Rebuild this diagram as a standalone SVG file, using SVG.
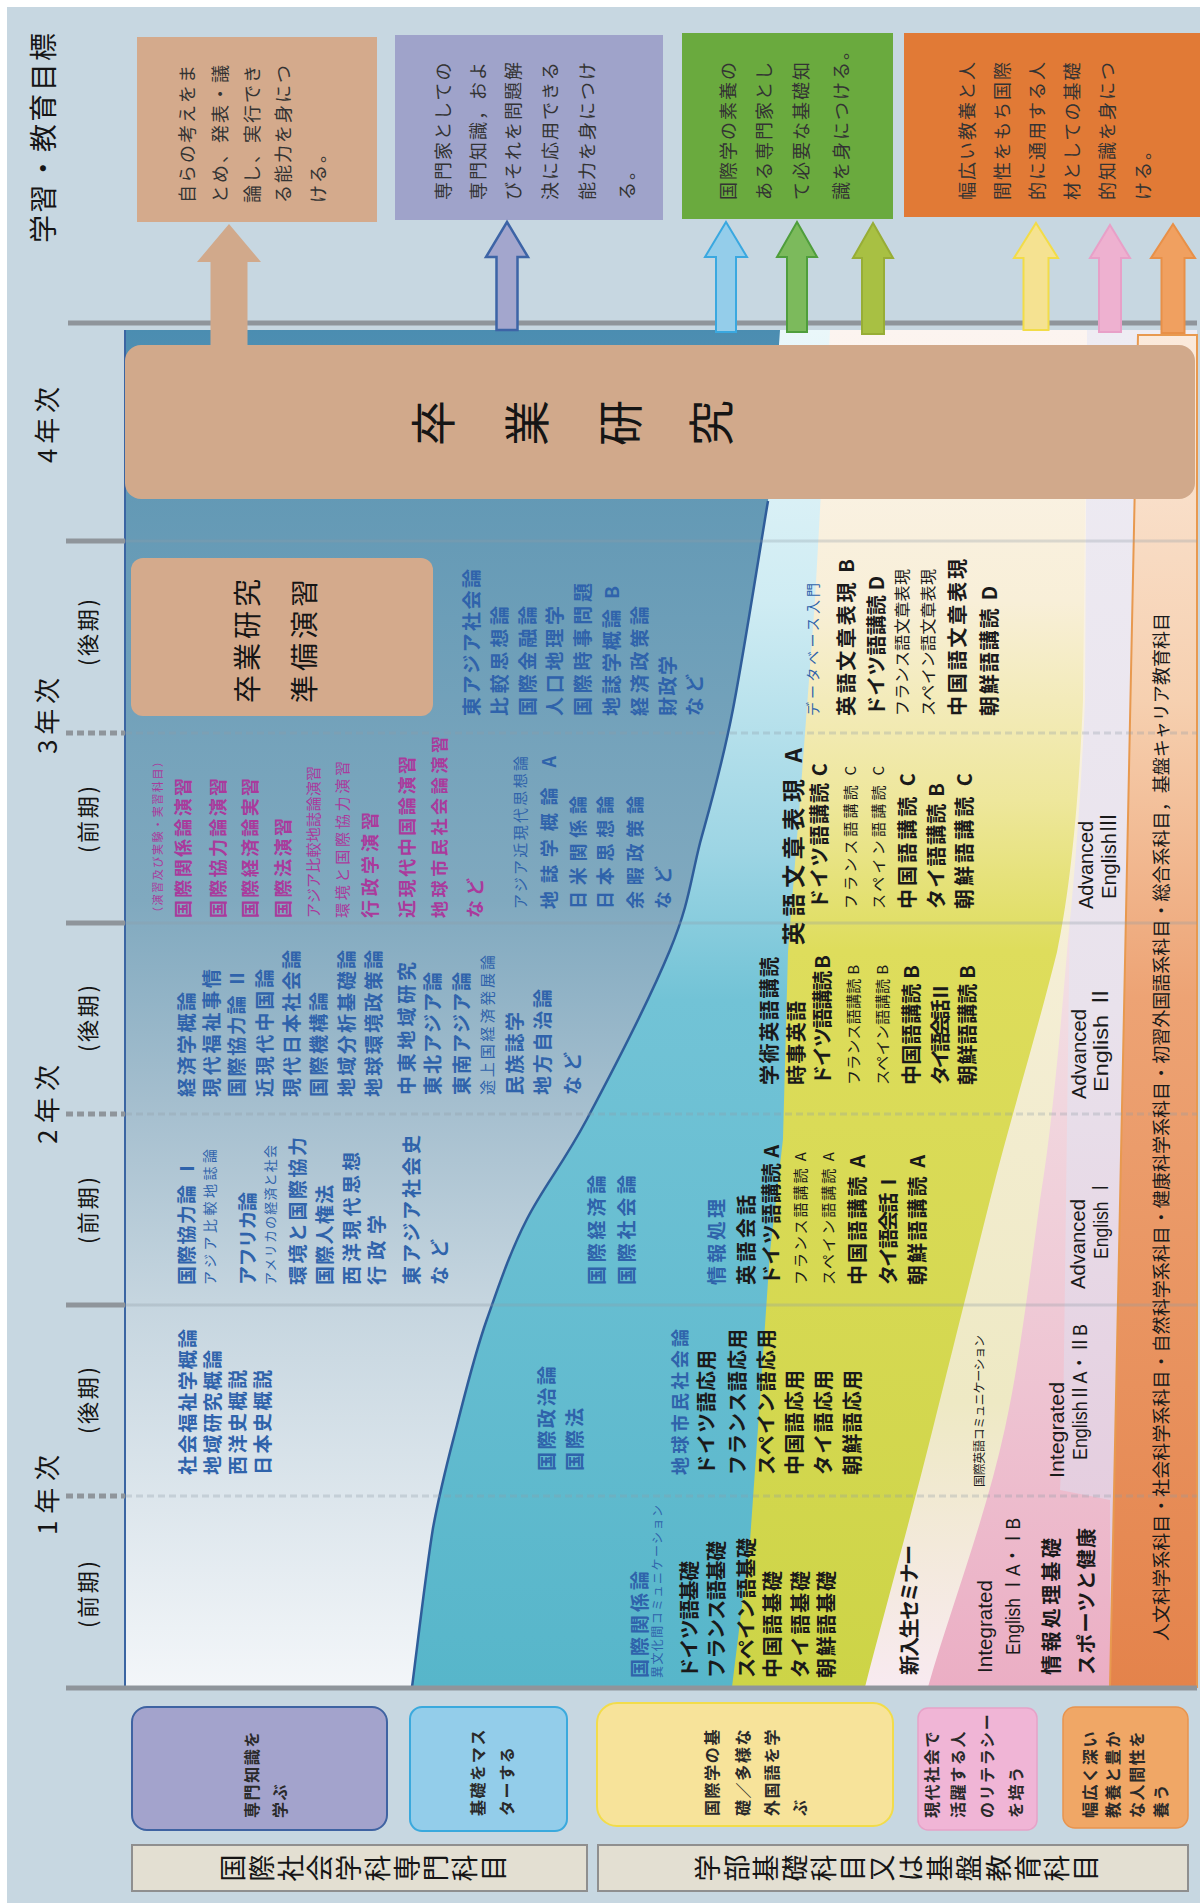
<svg xmlns="http://www.w3.org/2000/svg" width="1200" height="1903" viewBox="0 0 1200 1903">
<defs>
<style>
.t{font-family:"Noto Sans CJK JP","Noto Sans CJK SC",sans-serif;}
.l{font-family:"Liberation Sans","Noto Sans CJK JP",sans-serif;font-weight:normal;}
.bl{fill:#2f63ab;font-weight:bold;}
.mg{fill:#aa3a9c;font-weight:bold;}
.bk{fill:#1a1a1a;}
.bd{font-weight:bold;}
.nw{font-weight:normal;}
.gt{font-size:18px;letter-spacing:2px;fill:#333;}
.bx{font-size:16px;letter-spacing:1.6px;fill:#2a2a2a;font-weight:bold;}
.yl{stroke:#8f959b;stroke-width:5;fill:none;}
.fl{stroke:#8f9aa6;stroke-width:3;opacity:.3;fill:none;}
.hd{fill:#151515;}
</style>
<linearGradient id="gA" gradientUnits="userSpaceOnUse" x1="0" y1="330" x2="0" y2="1687">
<stop offset="0" stop-color="#4b8db1"/><stop offset=".12" stop-color="#6399b5"/><stop offset=".42" stop-color="#80a9bf"/><stop offset=".567" stop-color="#a4bece"/><stop offset=".715" stop-color="#c5d5df"/><stop offset="1" stop-color="#f3f6f9"/>
</linearGradient>
<linearGradient id="gB" gradientUnits="userSpaceOnUse" x1="0" y1="330" x2="0" y2="1687">
<stop offset="0" stop-color="#eaf7fa"/><stop offset=".2" stop-color="#cfecf3"/><stop offset=".383" stop-color="#9dd5e4"/><stop offset=".494" stop-color="#72c3d6"/><stop offset="1" stop-color="#57b6ca"/>
</linearGradient>
<linearGradient id="gC" gradientUnits="userSpaceOnUse" x1="0" y1="330" x2="0" y2="1687">
<stop offset="0" stop-color="#fcf4f0"/><stop offset=".2" stop-color="#f8efd8"/><stop offset=".346" stop-color="#eee79c"/><stop offset=".457" stop-color="#dedd5c"/><stop offset="1" stop-color="#cdd447"/>
</linearGradient>
<linearGradient id="gD" gradientUnits="userSpaceOnUse" x1="0" y1="330" x2="0" y2="1687">
<stop offset="0" stop-color="#fcf4f0"/><stop offset=".42" stop-color="#f6efd8"/><stop offset=".79" stop-color="#eee9c4"/><stop offset="1" stop-color="#f8eaf0"/>
</linearGradient>
<linearGradient id="gE" gradientUnits="userSpaceOnUse" x1="0" y1="330" x2="0" y2="1687">
<stop offset="0" stop-color="#f8eff2"/><stop offset=".42" stop-color="#f3e2e6"/><stop offset=".715" stop-color="#efcad6"/><stop offset="1" stop-color="#ebaec4"/>
</linearGradient>
<linearGradient id="gF" gradientUnits="userSpaceOnUse" x1="0" y1="330" x2="0" y2="1687">
<stop offset="0" stop-color="#eeecf3"/><stop offset=".5" stop-color="#e9e2ec"/><stop offset="1" stop-color="#e3c6da"/>
</linearGradient>
<linearGradient id="gO" gradientUnits="userSpaceOnUse" x1="0" y1="335" x2="0" y2="1687">
<stop offset="0" stop-color="#fbeadc"/><stop offset=".27" stop-color="#f6d0b0"/><stop offset=".49" stop-color="#eda374"/><stop offset="1" stop-color="#e4834b"/>
</linearGradient>
</defs>

<rect x="0" y="0" width="1200" height="1903" fill="#ffffff"/>
<rect x="7" y="7" width="1193" height="1896" fill="#c7d7e1"/>

<!-- chart bands -->
<g id="chart">
<rect x="700" y="330" width="497" height="1357" fill="url(#gF)"/>
<path d="M125,330 L1087,330 L1070,900 L1063,1428 L1060,1490 L1110,1500 L1110,1687 L125,1687 Z" fill="url(#gE)"/>
<path d="M125,330 L1087,330 L1085,700 C1080,820 1072,900 1067,952 C1058,1060 1050,1140 1040,1200 C1028,1290 1018,1370 1005,1428 C985,1520 950,1610 928,1687 L125,1687 Z" fill="url(#gD)"/>
<path d="M125,330 L1087,330 L1083,700 C1078,820 1068,900 1057,952 C1035,1040 1010,1120 990,1200 C970,1280 950,1360 933,1428 C910,1520 885,1610 865,1687 L125,1687 Z" fill="url(#gC)"/>
<path d="M125,330 L830,330 L815,600 L800,800 L788,952 L783,1139 L770,1252 L758,1428 L750,1541 L732,1687 L125,1687 Z" fill="url(#gB)"/>
<path d="M125,330 L780,330 L768,501 C762,536 744,652 733,709 C722,766 711,803 700,843 C690,883 689,904 670,950 C651,996 611,1074 587,1119 C563,1164 544,1186 527,1219 C510,1252 499,1285 487,1319 C475,1353 466,1390 457,1425 C448,1460 441,1485 433,1528 C426,1571 416,1657 412,1687 L125,1687 Z" fill="url(#gA)"/>
<path d="M768,501 C762,536 744,652 733,709 C722,766 711,803 700,843 C690,883 689,904 670,950 C651,996 611,1074 587,1119 C563,1164 544,1186 527,1219 C510,1252 499,1285 487,1319 C475,1353 466,1390 457,1425 C448,1460 441,1485 433,1528 C426,1571 416,1657 412,1687" fill="none" stroke="#2f5d9a" stroke-width="2.5"/>
<path d="M1138,335 L1197,335 L1197,1687 L1110,1687 Z" fill="url(#gO)" stroke="#e8994f" stroke-width="2"/>
<path d="M125,330 V1687" stroke="#3b65a2" stroke-width="2" fill="none"/>
<path class="fl" d="M125,541 H1197 M125,923 H1197 M125,1305 H1197"/>
<path class="fl" stroke-dasharray="7 4" d="M125,733 H1197 M125,1114 H1197 M125,1496 H1197"/>
</g>

<!-- year lines -->
<g id="yearlines">
<path class="yl" d="M68,323 H1197 M66,1688 H1197 M66,541 H125 M66,923 H125 M66,1305 H125"/>
<path class="yl" stroke-dasharray="7 4" d="M66,733 H125 M66,1114 H125 M66,1496 H125"/>
</g>

<!-- year headers -->
<g id="headers" transform="matrix(0,-1,1,0,0,1903)" class="t hd">
<text x="1660" y="54" font-size="28" textLength="210" lengthAdjust="spacing">学習・教育目標</text>
<text x="1440" y="57" font-size="26" textLength="76" lengthAdjust="spacing">4年次</text>
<text x="1149" y="57" font-size="26" textLength="76" lengthAdjust="spacing">3年次</text>
<text x="759" y="57" font-size="26" textLength="79" lengthAdjust="spacing">2年次</text>
<text x="368" y="57" font-size="26" textLength="80" lengthAdjust="spacing">1年次</text>
<g font-size="22">
<text x="1237" y="96" textLength="67" lengthAdjust="spacing">(後期)</text>
<text x="1050" y="96" textLength="67" lengthAdjust="spacing">(前期)</text>
<text x="851" y="96" textLength="67" lengthAdjust="spacing">(後期)</text>
<text x="659" y="96" textLength="67" lengthAdjust="spacing">(前期)</text>
<text x="469" y="96" textLength="67" lengthAdjust="spacing">(後期)</text>
<text x="275" y="96" textLength="67" lengthAdjust="spacing">(前期)</text>
</g>
</g>

<!-- graduation research -->
<g id="sotsugyo">
<rect x="125" y="345" width="1070" height="154" rx="16" fill="#d1a98b"/>
<g transform="matrix(0,-1,1,0,0,1903)" class="t hd" font-size="46" text-anchor="middle">
<text x="1480" y="450">卒</text>
<text x="1480" y="544">業</text>
<text x="1480" y="637">研</text>
<text x="1480" y="728">究</text>
</g>
</g>

<g id="junbi">
<rect x="131" y="558" width="302" height="158" rx="12" fill="#d4aa8c"/>
<g transform="matrix(0,-1,1,0,0,1903)" class="t hd" font-size="28">
<text x="1200" y="258" textLength="124" lengthAdjust="spacing">卒業研究</text>
<text x="1200" y="315" textLength="124" lengthAdjust="spacing">準備演習</text>
</g>
</g>

<!-- course texts -->
<g id="courses" transform="matrix(0,-1,1,0,0,1903)" class="t">
<!-- 3年前期 magenta -->
<g class="mg">
<text class="nw" x="985" y="162" font-size="11" textLength="162" lengthAdjust="spacing">（演習及び実験・実習科目）</text>
<text x="985" y="190" font-size="18" textLength="140" lengthAdjust="spacing">国際関係論演習</text>
<text x="985" y="225" font-size="18" textLength="140" lengthAdjust="spacing">国際協力論演習</text>
<text x="985" y="257" font-size="18" textLength="140" lengthAdjust="spacing">国際経済論実習</text>
<text x="985" y="290" font-size="18" textLength="100" lengthAdjust="spacing">国際法演習</text>
<text class="nw" x="985" y="319" font-size="15" textLength="152" lengthAdjust="spacing">アジア比較地誌論演習</text>
<text class="nw" x="985" y="348" font-size="15" textLength="157" lengthAdjust="spacing">環境と国際協力演習</text>
<text x="985" y="377" font-size="18" textLength="106" lengthAdjust="spacing">行政学演習</text>
<text x="985" y="414" font-size="18" textLength="162" lengthAdjust="spacing">近現代中国論演習</text>
<text x="985" y="446" font-size="17" textLength="182" lengthAdjust="spacing">地球市民社会論演習</text>
<text x="985" y="482" font-size="18" textLength="40" lengthAdjust="spacing">など</text>
</g>
<g class="bl">
<!-- 3年前期 blue -->
<text class="nw" x="994" y="526" font-size="15" textLength="153" lengthAdjust="spacing">アジア近現代思想論</text>
<text x="994" y="556" font-size="18" textLength="153" lengthAdjust="spacing">地誌学概論 A</text>
<text x="994" y="585" font-size="18" textLength="113" lengthAdjust="spacing">日米関係論</text>
<text x="994" y="612" font-size="18" textLength="113" lengthAdjust="spacing">日本思想論</text>
<text x="994" y="642" font-size="18" textLength="113" lengthAdjust="spacing">余暇政策論</text>
<text x="994" y="670" font-size="18" textLength="43" lengthAdjust="spacing">など</text>
<!-- 3年後期 blue -->
<text x="1187" y="479" font-size="19" textLength="147" lengthAdjust="spacing">東アジア社会論</text>
<text x="1187" y="507" font-size="19" textLength="110" lengthAdjust="spacing">比較思想論</text>
<text x="1187" y="535" font-size="19" textLength="110" lengthAdjust="spacing">国際金融論</text>
<text x="1187" y="562" font-size="19" textLength="110" lengthAdjust="spacing">人口地理学</text>
<text x="1187" y="590" font-size="19" textLength="133" lengthAdjust="spacing">国際時事問題</text>
<text x="1187" y="619" font-size="19" textLength="130" lengthAdjust="spacing">地誌学概論 B</text>
<text x="1187" y="647" font-size="19" textLength="110" lengthAdjust="spacing">経済政策論</text>
<text x="1187" y="675" font-size="19" textLength="60" lengthAdjust="spacing">財政学</text>
<text x="1187" y="702" font-size="19" textLength="42" lengthAdjust="spacing">など</text>
<text class="nw" x="1187" y="818" font-size="14" textLength="133" lengthAdjust="spacing">データベース入門</text>
<!-- 2年後期 blue -->
<text x="806" y="194" font-size="19" textLength="105" lengthAdjust="spacing">経済学概論</text>
<text x="806" y="219" font-size="19" textLength="128" lengthAdjust="spacing">現代福祉事情</text>
<text x="806" y="244" font-size="19" textLength="128" lengthAdjust="spacing">国際協力論 Ⅱ</text>
<text x="806" y="272" font-size="19" textLength="128" lengthAdjust="spacing">近現代中国論</text>
<text x="806" y="299" font-size="19" textLength="147" lengthAdjust="spacing">現代日本社会論</text>
<text x="806" y="326" font-size="19" textLength="105" lengthAdjust="spacing">国際機構論</text>
<text x="806" y="354" font-size="19" textLength="147" lengthAdjust="spacing">地域分析基礎論</text>
<text x="806" y="381" font-size="19" textLength="147" lengthAdjust="spacing">地球環境政策論</text>
<text x="808" y="414" font-size="19" textLength="133" lengthAdjust="spacing">中東地域研究</text>
<text x="808" y="440" font-size="19" textLength="123" lengthAdjust="spacing">東北アジア論</text>
<text x="808" y="469" font-size="19" textLength="123" lengthAdjust="spacing">東南アジア論</text>
<text class="nw" x="808" y="493" font-size="15" textLength="140" lengthAdjust="spacing">途上国経済発展論</text>
<text x="808" y="522" font-size="19" textLength="83" lengthAdjust="spacing">民族誌学</text>
<text x="808" y="550" font-size="19" textLength="106" lengthAdjust="spacing">地方自治論</text>
<text x="808" y="580" font-size="19" textLength="43" lengthAdjust="spacing">など</text>
<!-- 2年前期 blue -->
<text x="618" y="194" font-size="19" textLength="126" lengthAdjust="spacing">国際協力論 Ⅰ</text>
<text class="nw" x="618" y="215" font-size="14" textLength="136" lengthAdjust="spacing">アジア比較地誌論</text>
<text x="618" y="255" font-size="19" textLength="93" lengthAdjust="spacing">アフリカ論</text>
<text class="nw" x="618" y="275" font-size="13" textLength="140" lengthAdjust="spacing">アメリカの経済と社会</text>
<text x="618" y="305" font-size="19" textLength="148" lengthAdjust="spacing">環境と国際協力</text>
<text x="618" y="332" font-size="19" textLength="100" lengthAdjust="spacing">国際人権法</text>
<text x="618" y="359" font-size="19" textLength="133" lengthAdjust="spacing">西洋現代思想</text>
<text x="618" y="384" font-size="19" textLength="70" lengthAdjust="spacing">行政学</text>
<text x="618" y="419" font-size="19" textLength="150" lengthAdjust="spacing">東アジア社会史</text>
<text x="618" y="447" font-size="19" textLength="46" lengthAdjust="spacing">など</text>
<text x="618" y="604" font-size="19" textLength="110" lengthAdjust="spacing">国際経済論</text>
<text x="618" y="634" font-size="19" textLength="110" lengthAdjust="spacing">国際社会論</text>
<text x="618" y="724" font-size="19" textLength="86" lengthAdjust="spacing">情報処理</text>
<!-- 1年後期 blue -->
<text x="428" y="195" font-size="19" textLength="146" lengthAdjust="spacing">社会福祉学概論</text>
<text x="428" y="220" font-size="19" textLength="125" lengthAdjust="spacing">地域研究概論</text>
<text x="428" y="245" font-size="19" textLength="105" lengthAdjust="spacing">西洋史概説</text>
<text x="428" y="270" font-size="19" textLength="105" lengthAdjust="spacing">日本史概説</text>
<text x="432" y="554" font-size="19" textLength="105" lengthAdjust="spacing">国際政治論</text>
<text x="432" y="582" font-size="19" textLength="63" lengthAdjust="spacing">国際法</text>
<text x="428" y="687" font-size="18" textLength="146" lengthAdjust="spacing">地球市民社会論</text>
<!-- 1年前期 blue -->
<text x="225" y="647" font-size="19" textLength="107" lengthAdjust="spacing">国際関係論</text>
<text class="nw" x="225" y="662" font-size="12" textLength="173" lengthAdjust="spacing">異文化間コミュニケーション</text>
</g>

<g class="bk">
<!-- 3年後期 languages -->
<text class="bd" x="1187" y="854" font-size="20" textLength="157" lengthAdjust="spacing">英語文章表現 B</text>
<text class="bd" x="1187" y="884" font-size="20" textLength="140" lengthAdjust="spacing">ドイツ語講読 D</text>
<text x="1187" y="908" font-size="16" textLength="147" lengthAdjust="spacing">フランス語文章表現</text>
<text x="1187" y="934" font-size="16" textLength="147" lengthAdjust="spacing">スペイン語文章表現</text>
<text class="bd" x="1187" y="965" font-size="20" textLength="157" lengthAdjust="spacing">中国語文章表現</text>
<text class="bd" x="1187" y="997" font-size="20" textLength="130" lengthAdjust="spacing">朝鮮語講読 D</text>
<!-- 3年前期 languages -->
<text class="bd" x="958" y="802" font-size="23" textLength="197" lengthAdjust="spacing">英語文章表現 A</text>
<text class="bd" x="994" y="827" font-size="20" textLength="146" lengthAdjust="spacing">ドイツ語講読 C</text>
<text x="994" y="856" font-size="15" textLength="143" lengthAdjust="spacing">フランス語講読 C</text>
<text x="994" y="884" font-size="15" textLength="143" lengthAdjust="spacing">スペイン語講読 C</text>
<text class="bd" x="994" y="915" font-size="20" textLength="136" lengthAdjust="spacing">中国語講読 C</text>
<text class="bd" x="994" y="944" font-size="20" textLength="126" lengthAdjust="spacing">タイ語講読 B</text>
<text class="bd" x="994" y="972" font-size="20" textLength="136" lengthAdjust="spacing">朝鮮語講読 C</text>
<text class="l" x="994" y="1093" font-size="21" textLength="88" lengthAdjust="spacingAndGlyphs">Advanced</text>
<text class="l" x="1004" y="1116" font-size="21" textLength="86" lengthAdjust="spacingAndGlyphs">EnglishⅢ</text>
<!-- 2年後期 languages -->
<text class="bd" x="818" y="777" font-size="20" textLength="128" lengthAdjust="spacing">学術英語講読</text>
<text class="bd" x="818" y="804" font-size="20" textLength="84" lengthAdjust="spacing">時事英語</text>
<text class="bd" x="818" y="830" font-size="20" textLength="130" lengthAdjust="spacing">ドイツ語講読 B</text>
<text x="818" y="859" font-size="15" textLength="120" lengthAdjust="spacing">フランス語講読 B</text>
<text x="818" y="888" font-size="15" textLength="120" lengthAdjust="spacing">スペイン語講読 B</text>
<text class="bd" x="818" y="919" font-size="20" textLength="120" lengthAdjust="spacing">中国語講読 B</text>
<text class="bd" x="818" y="948" font-size="20" textLength="103" lengthAdjust="spacing">タイ語会話 Ⅱ</text>
<text class="bd" x="818" y="975" font-size="20" textLength="120" lengthAdjust="spacing">朝鮮語講読 B</text>
<text class="l" x="804" y="1086" font-size="21" textLength="90" lengthAdjust="spacingAndGlyphs">Advanced</text>
<text class="l" x="811" y="1108" font-size="21" textLength="107" lengthAdjust="spacingAndGlyphs">English Ⅱ</text>
<!-- 2年前期 languages -->
<text class="bd" x="618" y="754" font-size="20" textLength="90" lengthAdjust="spacing">英語会話</text>
<text class="bd" x="618" y="779" font-size="20" textLength="140" lengthAdjust="spacing">ドイツ語講読 A</text>
<text x="618" y="806" font-size="15" textLength="133" lengthAdjust="spacing">フランス語講読 A</text>
<text x="618" y="834" font-size="15" textLength="133" lengthAdjust="spacing">スペイン語講読 A</text>
<text class="bd" x="618" y="865" font-size="20" textLength="130" lengthAdjust="spacing">中国語講読 A</text>
<text class="bd" x="618" y="896" font-size="20" textLength="113" lengthAdjust="spacing">タイ語会話 Ⅰ</text>
<text class="bd" x="618" y="925" font-size="20" textLength="130" lengthAdjust="spacing">朝鮮語講読 A</text>
<text class="l" x="614" y="1085" font-size="21" textLength="90" lengthAdjust="spacingAndGlyphs">Advanced</text>
<text class="l" x="644" y="1108" font-size="21" textLength="80" lengthAdjust="spacingAndGlyphs">English Ⅰ</text>
<!-- 1年後期 languages -->
<text class="bd" x="428" y="714" font-size="20" textLength="125" lengthAdjust="spacing">ドイツ語応用</text>
<text class="bd" x="428" y="745" font-size="20" textLength="146" lengthAdjust="spacing">フランス語応用</text>
<text class="bd" x="428" y="774" font-size="20" textLength="146" lengthAdjust="spacing">スペイン語応用</text>
<text class="bd" x="428" y="802" font-size="20" textLength="105" lengthAdjust="spacing">中国語応用</text>
<text class="bd" x="428" y="831" font-size="20" textLength="105" lengthAdjust="spacing">タイ語応用</text>
<text class="bd" x="428" y="860" font-size="20" textLength="105" lengthAdjust="spacing">朝鮮語応用</text>
<text x="416" y="984" font-size="12" textLength="152" lengthAdjust="spacing">国際英語コミュニケーション</text>
<text class="l" x="425" y="1064" font-size="20" textLength="96" lengthAdjust="spacingAndGlyphs">Integrated</text>
<text class="l" x="443" y="1087" font-size="20" textLength="136" lengthAdjust="spacingAndGlyphs">EnglishⅡA・ⅡB</text>
<!-- 1年前期 languages -->
<text class="bd" x="225" y="697" font-size="20" textLength="117" lengthAdjust="spacing">ドイツ語基礎</text>
<text class="bd" x="225" y="724" font-size="20" textLength="137" lengthAdjust="spacing">フランス語基礎</text>
<text class="bd" x="225" y="754" font-size="20" textLength="140" lengthAdjust="spacing">スペイン語基礎</text>
<text class="bd" x="225" y="780" font-size="20" textLength="107" lengthAdjust="spacing">中国語基礎</text>
<text class="bd" x="225" y="808" font-size="20" textLength="107" lengthAdjust="spacing">タイ語基礎</text>
<text class="bd" x="225" y="834" font-size="20" textLength="107" lengthAdjust="spacing">朝鮮語基礎</text>
<text class="bd" x="228" y="917" font-size="20" textLength="130" lengthAdjust="spacing">新入生セミナー</text>
<text class="l" x="230" y="992" font-size="20" textLength="93" lengthAdjust="spacingAndGlyphs">Integrated</text>
<text class="l" x="248" y="1020" font-size="20" textLength="137" lengthAdjust="spacingAndGlyphs">English ⅠA・ⅠB</text>
<text class="bd" x="228" y="1059" font-size="20" textLength="137" lengthAdjust="spacing">情報処理基礎</text>
<text class="bd" x="228" y="1094" font-size="20" textLength="147" lengthAdjust="spacing">スポーツと健康</text>
<!-- orange band -->
<text x="262" y="1168" font-size="18" textLength="1028" lengthAdjust="spacing">人文科学系科目・社会科学系科目・自然科学系科目・健康科学系科目・初習外国語系科目・総合系科目，基盤キャリア教育科目</text>
</g>
</g>

<!-- goals -->
<g id="goal1">
<rect x="137" y="37" width="240" height="185" fill="#d4aa8c"/>
<g transform="matrix(0,-1,1,0,0,1903)" class="t gt">
<text x="1700" y="194">自らの考えをま</text>
<text x="1700" y="227">とめ、発表・議</text>
<text x="1700" y="259">論し、実行でき</text>
<text x="1700" y="290">る能力を身につ</text>
<text x="1700" y="325">ける。</text>
</g>
</g>
<g id="goal2">
<rect x="395" y="35" width="268" height="185" fill="#9fa3ca"/>
<g transform="matrix(0,-1,1,0,0,1903)" class="t gt">
<text x="1703" y="450">専門家としての</text>
<text x="1703" y="485">専門知識，およ</text>
<text x="1703" y="520">びそれを問題解</text>
<text x="1703" y="557">決に応用できる</text>
<text x="1703" y="594">能力を身につけ</text>
<text x="1703" y="634">る。</text>
</g>
</g>
<g id="goal3">
<rect x="682" y="33" width="211" height="186" fill="#6aaa3e"/>
<g transform="matrix(0,-1,1,0,0,1903)" class="t gt">
<text x="1703" y="735">国際学の素養の</text>
<text x="1703" y="771">ある専門家とし</text>
<text x="1703" y="808">て必要な基礎知</text>
<text x="1703" y="848">識を身につける。</text>
</g>
</g>
<g id="goal4">
<rect x="904" y="33" width="296" height="184" fill="#e17a36"/>
<g transform="matrix(0,-1,1,0,0,1903)" class="t gt">
<text x="1703" y="974">幅広い教養と人</text>
<text x="1703" y="1009">間性をもち国際</text>
<text x="1703" y="1044">的に通用する人</text>
<text x="1703" y="1079">材としての基礎</text>
<text x="1703" y="1114">的知識を身につ</text>
<text x="1703" y="1150">ける。</text>
</g>
</g>

<!-- connectors (arrows) -->
<g id="connectors">
<polygon points="229,224 261,262 247.5,262 247.5,346 210.5,346 210.5,262 197,262" fill="#d1a98b"/>
<polygon points="507,222 528,257 517.5,257 517.5,330 496.5,330 496.5,257 486,257" fill="#a3a6cd" stroke="#3d64a6" stroke-width="2.5" stroke-linejoin="miter"/>
<polygon points="726,222 747,257 736,257 736,332 716,332 716,257 705,257" fill="#94cdea" stroke="#3aa8e0" stroke-width="2"/>
<polygon points="797,222 817,257 807,257 807,332 787,332 787,257 777,257" fill="#7cba5c" stroke="#4f9e3c" stroke-width="2"/>
<polygon points="873,223 893,258 884,258 884,334 862,334 862,258 853,258" fill="#a8c043" stroke="#97ad36" stroke-width="2"/>
<polygon points="1036,223 1058,258 1048.5,258 1048.5,330 1023.5,330 1023.5,258 1014,258" fill="#f5e291" stroke="#f2dc48" stroke-width="2"/>
<polygon points="1110,225 1130,258 1121,258 1121,332 1099,332 1099,258 1090,258" fill="#eeb1d0" stroke="#e8a0c8" stroke-width="2"/>
<polygon points="1173,224 1195,258 1184.5,258 1184.5,333 1161.5,333 1161.5,258 1151,258" fill="#f0a060" stroke="#e89048" stroke-width="2"/>
</g>

<!-- bottom legend boxes -->
<g id="box-senmon">
<rect x="132" y="1707" width="255" height="123" rx="15" fill="#a3a3cc" stroke="#3f63a2" stroke-width="2"/>
<g transform="matrix(0,-1,1,0,0,1903)" class="t bx">
<text x="85" y="258">専門知識を</text>
<text x="85" y="286">学ぶ</text>
</g>
</g>
<g id="box-kiso">
<rect x="410" y="1707" width="157" height="124" rx="12" fill="#93cdea" stroke="#3aa9dd" stroke-width="2"/>
<g transform="matrix(0,-1,1,0,0,1903)" class="t bx">
<text x="87" y="484">基礎をマス</text>
<text x="87" y="513">ターする</text>
</g>
</g>
<g id="box-kokusai">
<rect x="597" y="1703" width="296" height="123" rx="20" fill="#f7e39a" stroke="#f2dc4a" stroke-width="2"/>
<g transform="matrix(0,-1,1,0,0,1903)" class="t bx" letter-spacing="2.2">
<text x="87" y="718">国際学の基</text>
<text x="87" y="749">礎／多様な</text>
<text x="87" y="778">外国語を学</text>
<text x="87" y="806">ぶ</text>
</g>
</g>
<g id="box-literacy">
<rect x="918" y="1708" width="119" height="122" rx="10" fill="#f0b5d6" stroke="#e6a2c8" stroke-width="1.5"/>
<g transform="matrix(0,-1,1,0,0,1903)" class="t bx">
<text x="85" y="938">現代社会で</text>
<text x="85" y="964">活躍する人</text>
<text x="85" y="993">のリテラシー</text>
<text x="85" y="1022">を培う</text>
</g>
</g>
<g id="box-kyoyo">
<rect x="1063" y="1707" width="125" height="121" rx="12" fill="#f0a766" stroke="#e8944e" stroke-width="1.5"/>
<g transform="matrix(0,-1,1,0,0,1903)" class="t bx">
<text x="85" y="1096">幅広く深い</text>
<text x="85" y="1119">教養と豊か</text>
<text x="85" y="1143">な人間性を</text>
<text x="85" y="1167">養う</text>
</g>
</g>
<g id="cat-senmon">
<rect x="132" y="1845" width="455" height="46" fill="#e3dfd2" stroke="#8f8f8f" stroke-width="2"/>
<g transform="matrix(0,-1,1,0,0,1903)" class="t hd" font-size="27" text-anchor="middle">
<text x="35" y="243">国</text><text x="35" y="272">際</text><text x="35" y="301">社</text><text x="35" y="330">会</text><text x="35" y="359">学</text><text x="35" y="388">科</text><text x="35" y="417">専</text><text x="35" y="446">門</text><text x="35" y="475">科</text><text x="35" y="504">目</text>
</g>
</g>
<g id="cat-kiban">
<rect x="598" y="1845" width="590" height="46" fill="#e3dfd2" stroke="#8f8f8f" stroke-width="2"/>
<g transform="matrix(0,-1,1,0,0,1903)" class="t hd" font-size="27" text-anchor="middle">
<text x="35" y="718">学</text><text x="35" y="747">部</text><text x="35" y="776">基</text><text x="35" y="805">礎</text><text x="35" y="834">科</text><text x="35" y="863">目</text><text x="35" y="892">又</text><text x="35" y="921">は</text><text x="35" y="950">基</text><text x="35" y="979">盤</text><text x="35" y="1009">教</text><text x="35" y="1038">育</text><text x="35" y="1067">科</text><text x="35" y="1096">目</text>
</g>
</g>
</svg>
